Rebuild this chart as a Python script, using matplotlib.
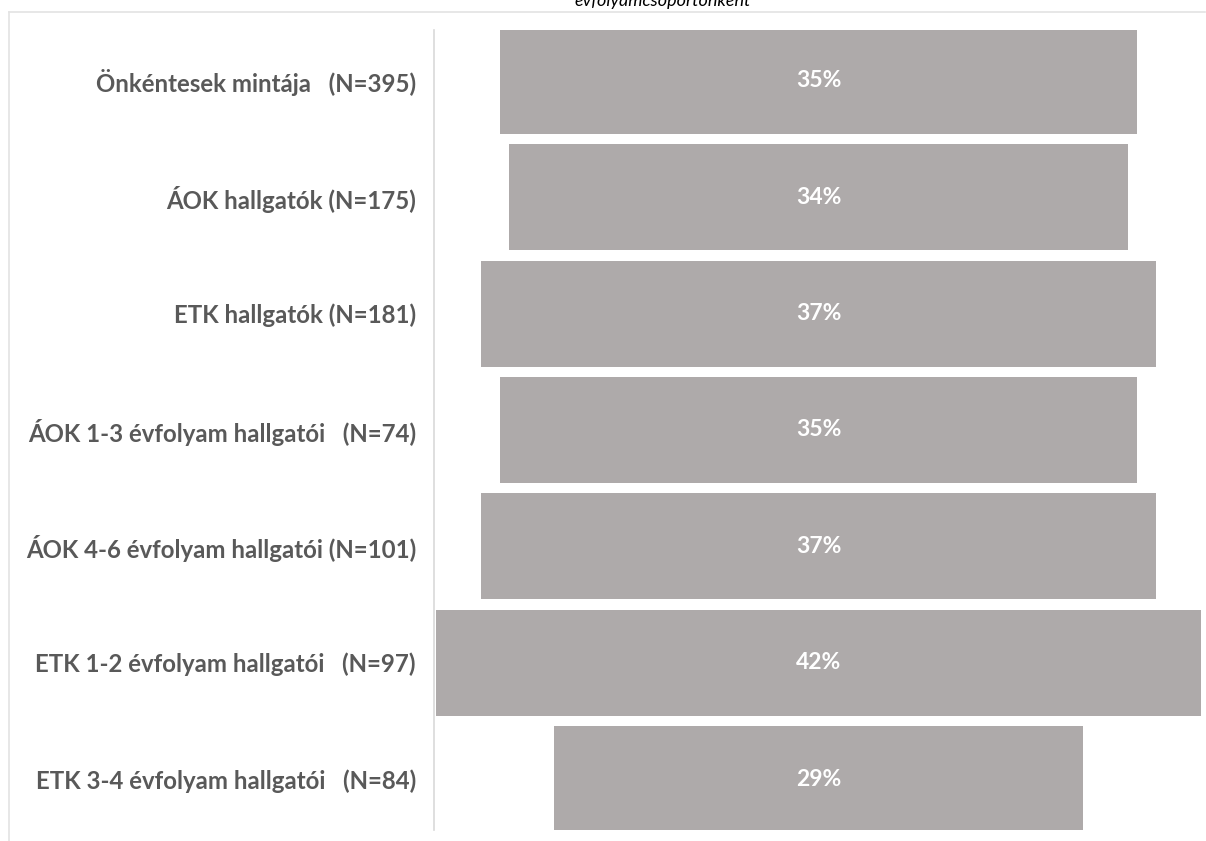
import matplotlib.pyplot as plt
from matplotlib.lines import Line2D

categories = [
    "Önkéntesek mintája   (N=395)",
    "ÁOK hallgatók (N=175)",
    "ETK hallgatók (N=181)",
    "ÁOK 1-3 évfolyam hallgatói   (N=74)",
    "ÁOK 4-6 évfolyam hallgatói (N=101)",
    "ETK 1-2 évfolyam hallgatói   (N=97)",
    "ETK 3-4 évfolyam hallgatói   (N=84)",
]
values = [35, 34, 37, 35, 37, 42, 29]
title_tail = "évfolyamcsoportonként"

bar_color = "#AEAAAA"
label_color = "#595959"

plt.rcParams["font.family"] = ["Lato", "DejaVu Sans"]

fig = plt.figure(figsize=(12.06, 8.41), dpi=100)
ax = fig.add_axes([434 / 1206, 1 - 830 / 841, (1203 - 434) / 1206, 800 / 841])

ypos = list(range(len(values)))
lefts = [-v / 2 for v in values]
ax.barh(ypos, values, left=lefts, height=0.91, color=bar_color)
for y, v in zip(ypos, values):
    ax.text(0, y, f"{v}%", ha="center", va="center", color="white",
            fontsize=16.5, fontweight="bold")

ax.set_xlim(-21.1, 21.1)
ax.set_ylim(6.438, -0.438)
ax.set_yticks(ypos)
ax.set_yticklabels(categories, fontsize=17.3, fontweight="bold", color=label_color)
ax.tick_params(axis="y", length=0, pad=13)
ax.set_xticks([])
for side in ["top", "right", "bottom"]:
    ax.spines[side].set_visible(False)
ax.spines["left"].set_color("#D9D9D9")
ax.spines["left"].set_linewidth(1.2)

# light frame (top and left edges) of the surrounding chart area
frame_color = "#E3E3E3"
fig.lines.append(Line2D([9 / 1206, 1205 / 1206], [1 - 12 / 841] * 2,
                        transform=fig.transFigure, color=frame_color, linewidth=1.2))
fig.lines.append(Line2D([9 / 1206] * 2, [0, 1 - 12 / 841],
                        transform=fig.transFigure, color=frame_color, linewidth=1.2))

fig.text(663 / 1206, 1 - 6 / 841, title_tail, ha="center", va="baseline",
         fontsize=13, style="italic", color="black")

fig.savefig("out.png", dpi=100)
